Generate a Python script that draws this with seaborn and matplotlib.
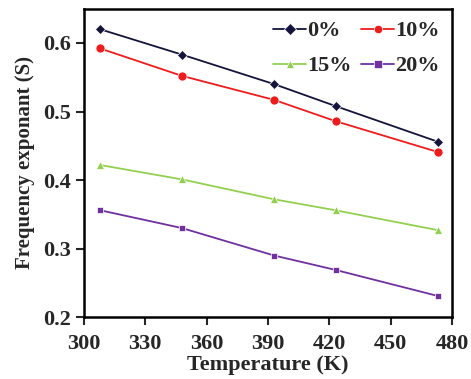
import pandas as pd
import matplotlib
matplotlib.use("Agg")
import matplotlib.pyplot as plt
import seaborn as sns

# data
temps = [308, 348, 393, 423, 473]
s_0 = [0.620, 0.583, 0.540, 0.508, 0.456]
s_10 = [0.592, 0.552, 0.517, 0.486, 0.441]
s_15 = [0.422, 0.401, 0.372, 0.356, 0.327]
s_20 = [0.356, 0.330, 0.290, 0.269, 0.231]
labels = ["0%", "10%", "15%", "20%"]

df = pd.DataFrame({
    "Temperature": temps * 4,
    "S": s_0 + s_10 + s_15 + s_20,
    "Sample": [l for l in labels for _ in temps],
})

sns.set_theme(style="ticks")
plt.rcParams["font.family"] = ["Liberation Serif", "DejaVu Serif"]
plt.rcParams["font.weight"] = "bold"

fig, ax = plt.subplots(figsize=(4.71, 3.79), dpi=100)

palette = {"0%": "#14143c", "10%": "#ee1c1c", "15%": "#92d050", "20%": "#7030a0"}
markers = {"0%": "D", "10%": "o", "15%": "^", "20%": "s"}
sizes = {"0%": 5, "10%": 6.5, "15%": 6, "20%": 5}

sns.lineplot(data=df, x="Temperature", y="S", hue="Sample", style="Sample",
             palette=palette, markers=markers, dashes=False, linewidth=1.3,
             markersize=6, markeredgewidth=0.5, ax=ax)
for line, lab in zip(ax.get_lines(), labels):
    line.set_markersize(sizes[lab])

ax.set_xlim(300, 480)
ax.set_ylim(0.2, 0.65)
ax.set_xticks(range(300, 481, 30))
ax.set_yticks([0.2, 0.3, 0.4, 0.5, 0.6])
ax.set_yticklabels(["0.2", "0.3", "0.4", "0.5", "0.6"])
ax.tick_params(axis="both", labelsize=16, width=1.5, length=6, direction="out")
ax.tick_params(axis="x", pad=6)
ax.tick_params(axis="y", pad=3)
for lab in ax.get_xticklabels() + ax.get_yticklabels():
    lab.set_fontweight("bold")
for sp in ax.spines.values():
    sp.set_linewidth(1.8)
    sp.set_color("black")
    sp.set_visible(True)

ax.set_xlabel("Temperature (K)", fontsize=16, fontweight="bold", labelpad=1)
ax.set_ylabel("Frequency exponant (S)", fontsize=15, fontweight="bold", labelpad=6)

# row-major legend order: 0% 10% / 15% 20%
handles, labs = ax.get_legend_handles_labels()
order = [0, 2, 1, 3]
leg = ax.legend([handles[i] for i in order], [labs[i] for i in order],
                ncol=2, loc="upper right", frameon=False, fontsize=16,
                handlelength=1.5, handletextpad=0.05, columnspacing=0.4,
                borderaxespad=0.15, labelspacing=0.65)
for t in leg.get_texts():
    t.set_fontweight("bold")

fig.subplots_adjust(left=0.178, right=0.96, top=0.977, bottom=0.163)
fig.savefig("out.png", dpi=100)
